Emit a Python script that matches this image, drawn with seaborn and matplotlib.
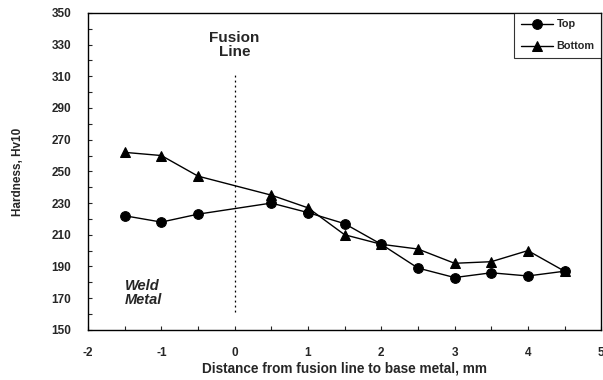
import matplotlib
matplotlib.use("Agg")
import matplotlib.pyplot as plt
from matplotlib.ticker import MultipleLocator
import seaborn as sns
import pandas as pd

# Hardness traverse across the fusion line
distance = [-1.5, -1.0, -0.5, 0.5, 1.0, 1.5, 2.0, 2.5, 3.0, 3.5, 4.0, 4.5]
top = [222, 218, 223, 230, 224, 217, 204, 189, 183, 186, 184, 187]
bottom = [262, 260, 247, 235, 227, 210, 204, 201, 192, 193, 200, 187]

df = pd.DataFrame({
    "Distance": distance * 2,
    "Hardness": top + bottom,
    "Location": ["Top"] * len(top) + ["Bottom"] * len(bottom),
})

sns.set_theme(style="white")
plt.rcParams["font.family"] = ["Liberation Sans", "DejaVu Sans"]
plt.rcParams["font.weight"] = "bold"
plt.rcParams["axes.unicode_minus"] = False

fig = plt.figure(figsize=(6.03, 3.8), dpi=100)
ax = fig.add_axes([0.146, 0.132, 0.851, 0.834])

sns.lineplot(data=df, x="Distance", y="Hardness", style="Location",
             markers={"Top": "o", "Bottom": "^"}, dashes=False,
             color="black", markersize=7, linewidth=1.0,
             markeredgecolor="black", ax=ax)

# fusion line
ax.plot([0, 0], [161, 312], color="black", linestyle=(0, (1.5, 2.5)), linewidth=0.9)
ax.text(0, 338.5, "Fusion\nLine", ha="center", va="top", fontsize=11,
        fontweight="bold", linespacing=1.0)
ax.text(-1.5, 173, "Weld\nMetal", ha="left", va="center", fontsize=10.5,
        fontweight="bold", fontstyle="italic", linespacing=1.0)

ax.set_xlim(-2, 5)
ax.set_ylim(150, 350)
ax.xaxis.set_major_locator(MultipleLocator(1))
ax.xaxis.set_minor_locator(MultipleLocator(0.5))
ax.yaxis.set_major_locator(MultipleLocator(20))
ax.yaxis.set_minor_locator(MultipleLocator(10))
ax.set_yticks(range(150, 351, 20))
ax.tick_params(which="both", direction="in", length=3, width=0.8,
               bottom=True, left=True, labelsize=8.5, pad=12)
for lbl in ax.get_xticklabels() + ax.get_yticklabels():
    lbl.set_fontweight("bold")

ax.set_xlabel("Distance from fusion line to base metal, mm", fontsize=9.8,
              fontweight="bold", labelpad=2)
ax.set_ylabel("Hardness, Hv10", fontsize=8.5, fontweight="bold", labelpad=20)

for side in ["top", "right", "left", "bottom"]:
    ax.spines[side].set_color("black")
    ax.spines[side].set_linewidth(1.0)

leg = ax.legend(loc="upper right", fontsize=7.8, frameon=True, fancybox=False,
                edgecolor="black", handlelength=3.0, borderaxespad=0,
                labelspacing=1.1, handletextpad=0.3, borderpad=0.6)
leg.get_frame().set_linewidth(0.8)
for t in leg.get_texts():
    t.set_fontweight("bold")

fig.savefig("out.png", dpi=100)
